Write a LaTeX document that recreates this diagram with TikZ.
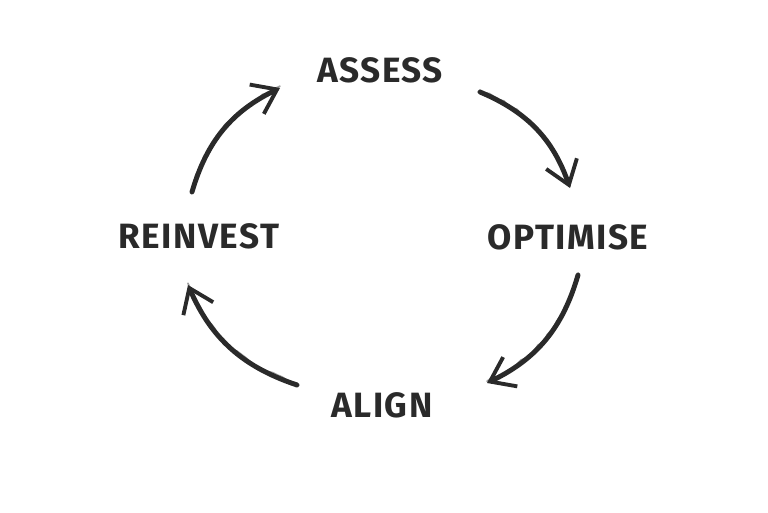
\documentclass[tikz,border=0pt]{standalone}
\usepackage{fontspec}
\setmainfont{Fira Sans}[LetterSpace=4]
\usepackage{tikz}
\usetikzlibrary{arrows.meta,positioning,decorations.pathmorphing}
\definecolor{charcoal}{RGB}{42,42,42}
\tikzset{
  steplabel/.style={font=\fontsize{20}{24}\selectfont\bfseries, text=charcoal,
                    inner sep=2pt},
  sketch/.style={-{Straight Barb[length=4.5mm, width=6.5mm, line width=2.2pt]},
                 line width=2.8pt, charcoal, line cap=round, bend left=24},
  sketchfaint/.style={line width=1pt, charcoal!45, line cap=round, bend left=24,
                      decorate, decoration={random steps, segment length=3pt, amplitude=0.6pt}},
}

\begin{document}
\begin{tikzpicture}
  \useasboundingbox (0,0) rectangle (15.36,-10.24);
  % labels
  \node[steplabel] (assess)   at (7.6,-1.4)   {ASSESS};
  \node[steplabel] (optimise) at (11.36,-4.74) {OPTIMISE};
  \node[steplabel] (align)    at (7.64,-8.1)  {ALIGN};
  \node[steplabel] (reinvest) at (3.98,-4.72) {REINVEST};
  % arrow ends
  \coordinate (aoS) at (9.6,-1.84);  \coordinate (aoE) at (11.4,-3.76);
  \coordinate (oaS) at (11.56,-5.5); \coordinate (oaE) at (9.74,-7.66);
  \coordinate (arS) at (5.94,-7.7);  \coordinate (arE) at (3.76,-5.7);
  \coordinate (raS) at (3.84,-3.84); \coordinate (raE) at (5.6,-1.76);
  \foreach \s/\e in {aoS/aoE, oaS/oaE, arS/arE, raS/raE} {
    \draw[sketchfaint] ([yshift=1pt]\s) to ([yshift=1pt]\e);
    \draw[sketch] (\s) to (\e);
  }
\end{tikzpicture}
\end{document}
